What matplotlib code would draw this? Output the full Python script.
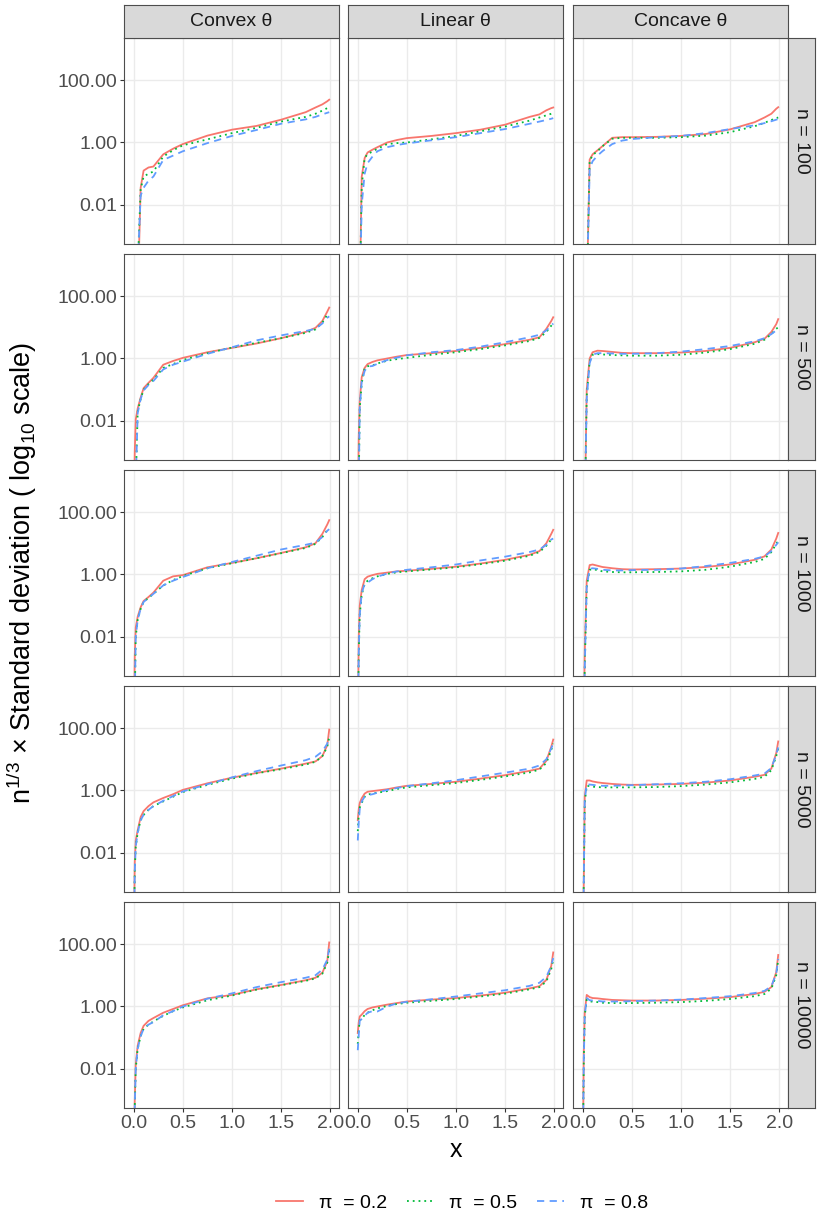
import matplotlib
matplotlib.use("Agg")
import matplotlib.pyplot as plt
from matplotlib.lines import Line2D
from matplotlib.ticker import NullLocator, FixedLocator, FixedFormatter

plt.rcParams["font.family"] = ["Liberation Sans", "DejaVu Sans"]
plt.rcParams["mathtext.fontset"] = "custom"
plt.rcParams["mathtext.rm"] = "Liberation Sans"

# -------------------------------
# Data
# (log10 of n^(1/3) x standard deviation; -5 means below the panel)
# -------------------------------
x_grid = [0.0, 0.01, 0.02, 0.04, 0.07, 0.1, 0.15, 0.2, 0.3, 0.4,
          0.5, 0.75, 1.0, 1.25, 1.5, 1.75, 1.85, 1.92, 1.97, 1.99]

shapes = ["Convex θ", "Linear θ", "Concave θ"]
sample_sizes = [100, 500, 1000, 5000, 10000]
pi_levels = [0.2, 0.5, 0.8]

# each panel: [pi = 0.2, pi = 0.5, pi = 0.8]
convex_n100 = [
    [-5, -5, -5, -5, -1.45, -0.9, -0.8, -0.77, -0.38, -0.2, -0.05, 0.22, 0.41, 0.53, 0.73, 0.97, 1.12, 1.22, 1.32, 1.37],
    [-5, -5, -5, -4, -1.5, -1.09, -1.0, -0.93, -0.45, -0.25, -0.09, 0.1, 0.3, 0.47, 0.67, 0.82, 0.92, 1.02, 1.1, 1.13],
    [-5, -5, -5, -4, -1.7, -1.45, -1.22, -1.09, -0.56, -0.42, -0.28, -0.02, 0.21, 0.4, 0.6, 0.74, 0.82, 0.9, 0.95, 0.97],
]
linear_n100 = [
    [-5, -5, -5, -1.1, -0.5, -0.32, -0.23, -0.15, 0.0, 0.08, 0.14, 0.21, 0.3, 0.41, 0.57, 0.82, 0.9, 1.03, 1.1, 1.12],
    [-5, -5, -5, -1.4, -0.5, -0.37, -0.29, -0.2, -0.05, -0.02, 0.0, 0.1, 0.21, 0.36, 0.51, 0.7, 0.8, 0.87, 0.92, 0.94],
    [-5, -5, -5, -2.0, -1.0, -0.66, -0.45, -0.28, -0.15, -0.08, -0.03, 0.07, 0.17, 0.3, 0.43, 0.6, 0.67, 0.72, 0.76, 0.78],
]
concave_n100 = [
    [-5, -5, -5, -5, -0.55, -0.38, -0.25, -0.12, 0.15, 0.17, 0.17, 0.18, 0.21, 0.27, 0.42, 0.65, 0.8, 0.92, 1.08, 1.13],
    [-5, -5, -5, -5, -0.6, -0.4, -0.28, -0.12, 0.12, 0.15, 0.15, 0.15, 0.17, 0.22, 0.33, 0.52, 0.63, 0.72, 0.78, 0.8],
    [-5, -5, -5, -5, -0.85, -0.6, -0.42, -0.28, -0.05, 0.06, 0.11, 0.17, 0.21, 0.3, 0.43, 0.55, 0.62, 0.68, 0.73, 0.75],
]
convex_n500 = [
    [-5, -3, -1.95, -1.6, -1.25, -0.95, -0.78, -0.62, -0.2, -0.08, 0.02, 0.2, 0.34, 0.48, 0.65, 0.85, 0.98, 1.2, 1.5, 1.63],
    [-5, -5, -4, -1.7, -1.3, -1.0, -0.82, -0.68, -0.3, -0.18, -0.05, 0.17, 0.35, 0.5, 0.65, 0.82, 0.93, 1.15, 1.4, 1.45],
    [-5, -5, -4, -1.75, -1.3, -1.02, -0.85, -0.72, -0.35, -0.2, -0.1, 0.15, 0.36, 0.58, 0.74, 0.88, 0.95, 1.12, 1.3, 1.35],
]
linear_n500 = [
    [-5, -2.5, -1.37, -0.6, -0.3, -0.18, -0.11, -0.06, 0.0, 0.06, 0.11, 0.17, 0.24, 0.34, 0.46, 0.6, 0.68, 0.95, 1.2, 1.32],
    [-5, -4, -1.6, -0.8, -0.3, -0.25, -0.22, -0.16, -0.07, -0.02, 0.02, 0.12, 0.2, 0.3, 0.42, 0.56, 0.66, 0.85, 1.05, 1.12],
    [-5, -4, -1.6, -0.75, -0.4, -0.26, -0.24, -0.17, -0.05, 0.03, 0.1, 0.2, 0.27, 0.38, 0.52, 0.68, 0.76, 0.9, 1.05, 1.12],
]
concave_n500 = [
    [-5, -5, -5, -1.0, 0.0, 0.2, 0.25, 0.24, 0.21, 0.18, 0.17, 0.17, 0.19, 0.24, 0.34, 0.52, 0.63, 0.85, 1.1, 1.26],
    [-5, -5, -5, -1.2, -0.1, 0.12, 0.14, 0.13, 0.11, 0.1, 0.09, 0.09, 0.12, 0.19, 0.3, 0.47, 0.6, 0.78, 0.95, 1.0],
    [-5, -5, -5, -1.3, -0.15, 0.12, 0.17, 0.17, 0.16, 0.15, 0.15, 0.17, 0.22, 0.3, 0.4, 0.55, 0.65, 0.78, 0.9, 0.95],
]
convex_n1000 = [
    [-5, -2.6, -1.7, -1.35, -1.05, -0.85, -0.72, -0.58, -0.2, -0.06, -0.02, 0.23, 0.37, 0.52, 0.69, 0.87, 1.0, 1.3, 1.6, 1.74],
    [-5, -4, -2.0, -1.45, -1.1, -0.88, -0.75, -0.62, -0.35, -0.18, -0.05, 0.2, 0.36, 0.52, 0.68, 0.85, 0.98, 1.2, 1.42, 1.45],
    [-5, -4, -2.0, -1.45, -1.1, -0.88, -0.75, -0.62, -0.35, -0.2, -0.08, 0.2, 0.4, 0.6, 0.8, 0.95, 1.02, 1.2, 1.4, 1.45],
]
linear_n1000 = [
    [-5, -2.0, -1.0, -0.5, -0.15, -0.07, -0.02, 0.02, 0.06, 0.1, 0.12, 0.18, 0.25, 0.35, 0.47, 0.63, 0.75, 1.0, 1.3, 1.43],
    [-5, -2.5, -1.3, -0.65, -0.3, -0.2, -0.12, -0.06, 0.02, 0.07, 0.1, 0.16, 0.23, 0.33, 0.44, 0.6, 0.72, 0.92, 1.12, 1.17],
    [-5, -2.5, -1.3, -0.6, -0.3, -0.26, -0.15, -0.07, 0.03, 0.1, 0.15, 0.23, 0.32, 0.45, 0.57, 0.72, 0.8, 0.95, 1.12, 1.15],
]
concave_n1000 = [
    [-5, -5, -2.5, -0.2, 0.3, 0.32, 0.28, 0.24, 0.2, 0.17, 0.16, 0.17, 0.19, 0.24, 0.32, 0.47, 0.58, 0.8, 1.15, 1.33],
    [-5, -5, -3, -0.4, 0.15, 0.17, 0.14, 0.1, 0.08, 0.07, 0.07, 0.08, 0.1, 0.15, 0.25, 0.4, 0.5, 0.72, 0.98, 1.08],
    [-5, -5, -3, -0.4, 0.18, 0.2, 0.18, 0.15, 0.13, 0.13, 0.14, 0.15, 0.19, 0.27, 0.37, 0.5, 0.58, 0.75, 0.95, 1.03],
]
convex_n5000 = [
    [-5, -2.3, -1.6, -1.27, -0.85, -0.66, -0.5, -0.38, -0.24, -0.12, 0.02, 0.23, 0.41, 0.56, 0.7, 0.86, 0.93, 1.1, 1.45, 1.95],
    [-5, -2.6, -1.8, -1.35, -0.95, -0.78, -0.62, -0.5, -0.35, -0.2, -0.05, 0.18, 0.38, 0.55, 0.68, 0.83, 0.92, 1.1, 1.4, 1.7],
    [-5, -2.6, -1.8, -1.35, -0.95, -0.78, -0.62, -0.5, -0.33, -0.18, -0.03, 0.2, 0.42, 0.62, 0.8, 0.97, 1.08, 1.25, 1.5, 1.72],
]
linear_n5000 = [
    [-0.95, -0.6, -0.4, -0.25, -0.1, -0.04, -0.02, 0.0, 0.04, 0.1, 0.15, 0.21, 0.28, 0.38, 0.49, 0.63, 0.7, 0.95, 1.4, 1.63],
    [-1.3, -0.8, -0.55, -0.4, -0.2, -0.13, -0.1, -0.07, -0.02, 0.05, 0.1, 0.17, 0.24, 0.34, 0.45, 0.58, 0.67, 0.88, 1.3, 1.5],
    [-1.6, -1.0, -0.6, -0.35, -0.2, -0.15, -0.12, -0.07, 0.02, 0.08, 0.14, 0.23, 0.33, 0.45, 0.57, 0.7, 0.8, 1.0, 1.35, 1.5],
]
concave_n5000 = [
    [-5, -3, -0.2, 0.32, 0.32, 0.29, 0.26, 0.24, 0.21, 0.19, 0.18, 0.19, 0.21, 0.25, 0.32, 0.44, 0.5, 0.7, 1.2, 1.57],
    [-5, -3, -0.4, 0.15, 0.14, 0.12, 0.11, 0.1, 0.1, 0.1, 0.1, 0.11, 0.14, 0.19, 0.26, 0.37, 0.44, 0.65, 1.1, 1.35],
    [-5, -3, -0.3, 0.2, 0.19, 0.18, 0.16, 0.15, 0.15, 0.16, 0.17, 0.2, 0.23, 0.28, 0.36, 0.48, 0.54, 0.72, 1.15, 1.38],
]
convex_n10000 = [
    [-5, -3, -1.85, -1.25, -0.85, -0.62, -0.46, -0.37, -0.2, -0.08, 0.04, 0.26, 0.37, 0.55, 0.69, 0.84, 0.92, 1.08, 1.45, 2.05],
    [-5, -3.2, -2.0, -1.35, -0.95, -0.72, -0.58, -0.48, -0.3, -0.15, -0.03, 0.2, 0.35, 0.54, 0.68, 0.82, 0.9, 1.05, 1.4, 1.8],
    [-5, -3.2, -2.0, -1.35, -0.95, -0.72, -0.58, -0.5, -0.28, -0.15, 0.0, 0.25, 0.42, 0.62, 0.78, 0.92, 1.0, 1.18, 1.5, 1.85],
]
linear_n10000 = [
    [-0.85, -0.5, -0.32, -0.26, -0.15, -0.08, -0.03, 0.0, 0.06, 0.11, 0.16, 0.22, 0.27, 0.35, 0.44, 0.58, 0.65, 0.85, 1.3, 1.73],
    [-1.2, -0.75, -0.45, -0.4, -0.27, -0.2, -0.12, -0.06, 0.02, 0.08, 0.12, 0.18, 0.24, 0.32, 0.41, 0.55, 0.62, 0.8, 1.2, 1.5],
    [-1.4, -0.9, -0.45, -0.4, -0.3, -0.2, -0.15, -0.16, 0.0, 0.1, 0.15, 0.23, 0.32, 0.42, 0.52, 0.66, 0.76, 0.95, 1.3, 1.55],
]
concave_n10000 = [
    [-5, -1.5, -0.2, 0.37, 0.3, 0.27, 0.26, 0.24, 0.21, 0.2, 0.19, 0.19, 0.21, 0.25, 0.3, 0.4, 0.47, 0.62, 1.1, 1.65],
    [-5, -1.8, -0.3, 0.22, 0.17, 0.15, 0.14, 0.12, 0.11, 0.11, 0.11, 0.12, 0.14, 0.18, 0.24, 0.33, 0.4, 0.57, 1.0, 1.5],
    [-5, -1.8, -0.3, 0.27, 0.2, 0.19, 0.18, 0.16, 0.16, 0.16, 0.17, 0.19, 0.22, 0.27, 0.33, 0.43, 0.5, 0.65, 1.05, 1.52],
]

panels = [
    [convex_n100, linear_n100, concave_n100],
    [convex_n500, linear_n500, concave_n500],
    [convex_n1000, linear_n1000, concave_n1000],
    [convex_n5000, linear_n5000, concave_n5000],
    [convex_n10000, linear_n10000, concave_n10000],
]

y_ticks = [0.01, 1, 100]
y_tick_labels = ["0.01", "1.00", "100.00"]
x_ticks = [0.0, 0.5, 1.0, 1.5, 2.0]
x_tick_labels = ["0.0", "0.5", "1.0", "1.5", "2.0"]

# -------------------------------
# Style
# -------------------------------
colors = ["#F8766D", "#00BA38", "#619CFF"]
styles = ["-", (0, (1, 2.2)), (0, (4, 3))]
line_w = 1.3
grid_col = "#EBEBEB"
border_col = "#4D4D4D"
tick_text = "#4D4D4D"
strip_fill = "#D9D9D9"

W, H = 817, 1219
fig = plt.figure(figsize=(W / 100, H / 100), dpi=100)


def rect(left, top, w, h):
    return [left / W, 1 - (top + h) / H, w / W, h / H]


col_left = [124, 348, 573]
row_top = [38, 254, 470, 686, 902]
panel_w, panel_h = 215, 206

for r, row in enumerate(panels):
    for c, series in enumerate(row):
        ax = fig.add_axes(rect(col_left[c], row_top[r], panel_w, panel_h))
        ax.set_yscale("log")
        for k, logs in enumerate(series):
            ys = [10 ** v for v in logs]
            ax.plot(x_grid, ys, color=colors[k], linestyle=styles[k], lw=line_w)
        ax.set_xlim(-0.0995, 2.0895)
        ax.set_ylim(10 ** -3.25, 10 ** 3.345)
        ax.yaxis.set_major_locator(FixedLocator(y_ticks))
        ax.yaxis.set_minor_locator(NullLocator())
        ax.xaxis.set_major_locator(FixedLocator(x_ticks))
        ax.xaxis.set_minor_locator(NullLocator())
        ax.grid(True, color=grid_col, lw=1.0)
        ax.set_axisbelow(True)
        for sp in ax.spines.values():
            sp.set_color(border_col)
            sp.set_linewidth(0.8)
        ax.tick_params(length=3, width=0.8, color="#333333",
                       labelcolor=tick_text, labelsize=14, pad=2)
        if c == 0:
            ax.yaxis.set_major_formatter(FixedFormatter(y_tick_labels))
        else:
            ax.tick_params(axis="y", length=0, labelleft=False)
        if r == len(panels) - 1:
            ax.xaxis.set_major_formatter(FixedFormatter(x_tick_labels))
        else:
            ax.tick_params(axis="x", length=0, labelbottom=False)

        # top strips
        if r == 0:
            sx = fig.add_axes(rect(col_left[c], 5, panel_w, 33))
            sx.set_facecolor(strip_fill)
            sx.set_xticks([])
            sx.set_yticks([])
            for sp in sx.spines.values():
                sp.set_color(border_col)
                sp.set_linewidth(0.8)
            sx.text(0.5, 0.5, shapes[c], ha="center", va="center",
                    fontsize=14, color="#1A1A1A", transform=sx.transAxes)

    # right strips
    sy = fig.add_axes(rect(788, row_top[r], 27, panel_h))
    sy.set_facecolor(strip_fill)
    sy.set_xticks([])
    sy.set_yticks([])
    for sp in sy.spines.values():
        sp.set_color(border_col)
        sp.set_linewidth(0.8)
    sy.text(0.5, 0.5, f"n = {sample_sizes[r]}", ha="center", va="center",
            rotation=270, fontsize=14, color="#1A1A1A", transform=sy.transAxes)

# axis titles
fig.text(22 / W, 1 - 573 / H,
         r"$\mathrm{n}^{1/3}$ × Standard deviation ( log$_{10}$ scale)",
         rotation=90, ha="center", va="center", fontsize=19.5)
fig.text(456 / W, 1 - 1150 / H, "x", ha="center", va="center", fontsize=18)

# legend
handles = [Line2D([], [], color=colors[k], linestyle=styles[k], lw=line_w)
           for k in range(3)]
labels = [f"π  = {p}" for p in pi_levels]
fig.legend(handles, labels, loc="center", bbox_to_anchor=(462 / W, 1 - 1203 / H),
           ncol=3, frameon=False, fontsize=14, handlelength=1.4,
           handletextpad=0.8, columnspacing=1.0)

fig.savefig("out.png", dpi=100, facecolor="white")
